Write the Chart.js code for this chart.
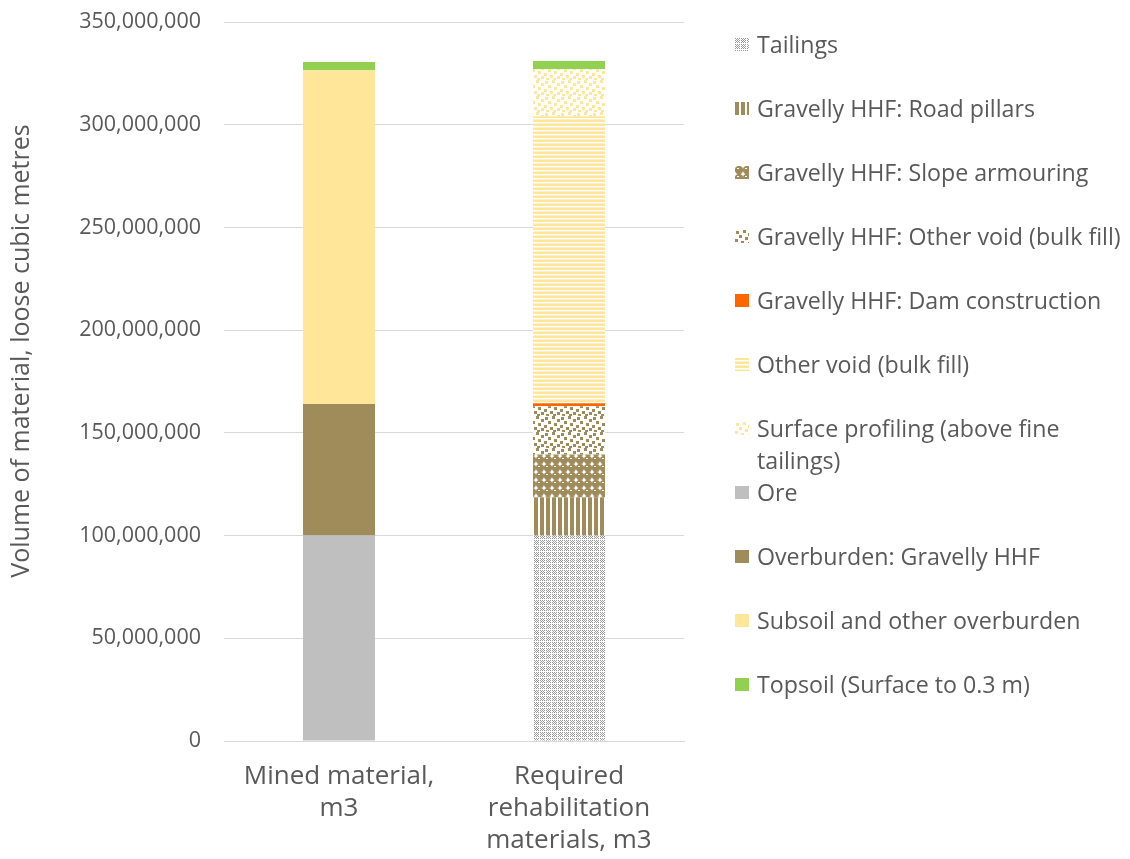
<!DOCTYPE html>
<html>
<head>
<meta charset="utf-8">
<script src="https://cdn.jsdelivr.net/npm/chart.js@4.4.1/dist/chart.umd.min.js"></script>
<style>
  body { margin: 0; background: #fff; }
  #wrap { position: relative; width: 1130px; height: 859px; }
  #legend { position: absolute; left: 735px; top: 28px; font-family: 'Open Sans', sans-serif; font-size: 23.2px; color: #595959; }
  .item { display: flex; align-items: flex-start; height: 64px; }
  .item canvas { margin-top: 10px; margin-right: 8px; flex: none; }
  .item span { line-height: 32px; width: 372px; }
</style>
</head>
<body>
<div id="wrap">
  <canvas id="lienzo" width="1130" height="859"></canvas>
  <div id="legend"></div>
</div>
<script>
'use strict';

// categorias (etiquetas del eje x en varias lineas)
const categorias = [['Mined material,', 'm3'], ['Required', 'rehabilitation', 'materials, m3']];

// valores en m3
const tailings         = [0, 100000000];
const roadPillars      = [0, 18500000];
const slopeArmouring   = [0, 21000000];
const gravellyBulkFill = [0, 23400000];
const damConstruction  = [0, 1500000];
const otherVoid        = [0, 139700000];
const surfaceProfiling = [0, 22900000];
const ore              = [100000000, 0];
const overburden       = [64000000, 0];
const subsoil          = [162500000, 0];
const topsoil          = [4000000, 4000000];

const ejeMax = 350000000;
const ejePaso = 50000000;
const tituloY = 'Volume of material, loose cubic metres';

const MARRON = '#A08C5A';
const AMARILLO = '#FFE699';

// ---- tramas ----
function tile(w, h, dibuja) {
    const c = document.createElement('canvas');
    c.width = w; c.height = h;
    const g = c.getContext('2d');
    g.fillStyle = '#fff';
    g.fillRect(0, 0, w, h);
    dibuja(g);
    return c;
}

const confeti = [[1, 1], [8, 0], [13, 3], [4, 5], [10, 7], [0, 9], [6, 11], [13, 12], [2, 14], [9, 14]];

const tramas = {
    puntos: () => tile(6, 6, g => {
        g.fillStyle = '#9a9a9a';
        for (let y = 0; y < 5; y++) for (let x = 0; x < 5; x++) if ((x + y) % 2 === 0) g.fillRect(x, y, 1, 1);
    }),
    verticales: () => tile(6, 1, g => {
        g.fillStyle = MARRON;
        g.fillRect(0, 0, 4, 1);
    }),
    esferas: () => tile(8, 8, g => {
        g.fillStyle = MARRON;
        g.beginPath(); g.arc(4, 4, 4.2, 0, Math.PI * 2); g.fill();
        g.fillStyle = '#fff';
        g.fillRect(2, 2, 2, 1);
    }),
    confetiMarron: () => tile(16, 16, g => {
        g.fillStyle = MARRON;
        confeti.forEach(p => g.fillRect(p[0], p[1], 3, 3));
    }),
    confetiAmarillo: () => tile(16, 16, g => {
        g.fillStyle = AMARILLO;
        confeti.forEach(p => g.fillRect(p[0], p[1], 3, 3));
    }),
    horizontales: () => tile(1, 4, g => {
        g.fillStyle = AMARILLO; g.fillRect(0, 0, 1, 2);
        g.fillStyle = '#FFF2C8'; g.fillRect(0, 3, 1, 1);
    })
};

const ctx = document.getElementById('lienzo');
const c2d = ctx.getContext('2d');
function trama(nombre) {
    return c2d.createPattern(tramas[nombre](), 'repeat');
}

const series = [
    { label: 'Tailings', data: tailings, fondo: trama('puntos') },
    { label: 'Gravelly HHF: Road pillars', data: roadPillars, fondo: trama('verticales') },
    { label: 'Gravelly HHF: Slope armouring', data: slopeArmouring, fondo: trama('esferas') },
    { label: 'Gravelly HHF: Other void (bulk fill)', data: gravellyBulkFill, fondo: trama('confetiMarron') },
    { label: 'Gravelly HHF: Dam construction', data: damConstruction, fondo: '#FF6600' },
    { label: 'Other void (bulk fill)', data: otherVoid, fondo: trama('horizontales') },
    { label: 'Surface profiling (above fine tailings)', data: surfaceProfiling, fondo: trama('confetiAmarillo') },
    { label: 'Ore', data: ore, fondo: '#BFBFBF' },
    { label: 'Overburden: Gravelly HHF', data: overburden, fondo: MARRON },
    { label: 'Subsoil and other overburden', data: subsoil, fondo: AMARILLO },
    { label: 'Topsoil (Surface to 0.3 m)', data: topsoil, fondo: '#92D050' }
];

Chart.defaults.font.family = "'Open Sans', sans-serif";
Chart.defaults.color = '#595959';

// titulo del eje y dibujado a mano (en el original no esta centrado con el eje)
const pluginTitulo = {
    id: 'tituloY',
    afterDraw(chart) {
        const g = chart.ctx;
        g.save();
        g.translate(22, 351);
        g.rotate(-Math.PI / 2);
        g.font = "25px 'Open Sans', sans-serif";
        g.fillStyle = '#595959';
        g.textAlign = 'center';
        g.textBaseline = 'middle';
        g.fillText(tituloY, 0, 0);
        g.restore();
    }
};

const myChart = new Chart(ctx, {
    type: 'bar',
    data: {
        labels: categorias,
        datasets: series.map(s => ({
            label: s.label,
            data: s.data,
            backgroundColor: s.fondo,
            borderWidth: 0,
            categoryPercentage: 1,
            barPercentage: 0.313
        }))
    },
    plugins: [pluginTitulo],
    options: {
        responsive: false,
        animation: false,
        layout: { padding: { left: 0, right: 446, top: 22, bottom: 0 } },
        plugins: {
            legend: { display: false },
            tooltip: { enabled: false }
        },
        scales: {
            x: {
                stacked: true,
                afterFit(scale) { scale.height = 118; },
                grid: { display: false },
                border: { color: '#d9d9d9', width: 1 },
                ticks: { font: { size: 26, lineHeight: 1.23 }, padding: 12, maxRotation: 0 }
            },
            y: {
                stacked: true,
                min: 0,
                max: ejeMax,
                afterFit(scale) {
                    scale.width = 224;
                    scale.paddingTop = 0;
                    scale.paddingBottom = 0;
                },
                ticks: {
                    stepSize: ejePaso,
                    padding: 23,
                    font: { size: 21.5 },
                    callback: v => v.toLocaleString('en-US')
                },
                grid: { color: '#d9d9d9', drawTicks: false },
                border: { display: false }
            }
        }
    }
});

// leyenda en html (permite partir el texto en dos lineas)
const leyenda = document.getElementById('legend');
series.forEach(s => {
    const item = document.createElement('div');
    item.className = 'item';
    const m = document.createElement('canvas');
    m.width = 14; m.height = 13;
    const g = m.getContext('2d');
    g.fillStyle = s.fondo;
    g.fillRect(0, 0, 14, 13);
    const t = document.createElement('span');
    t.textContent = s.label;
    item.appendChild(m);
    item.appendChild(t);
    leyenda.appendChild(item);
});
</script>
</body>
</html>
